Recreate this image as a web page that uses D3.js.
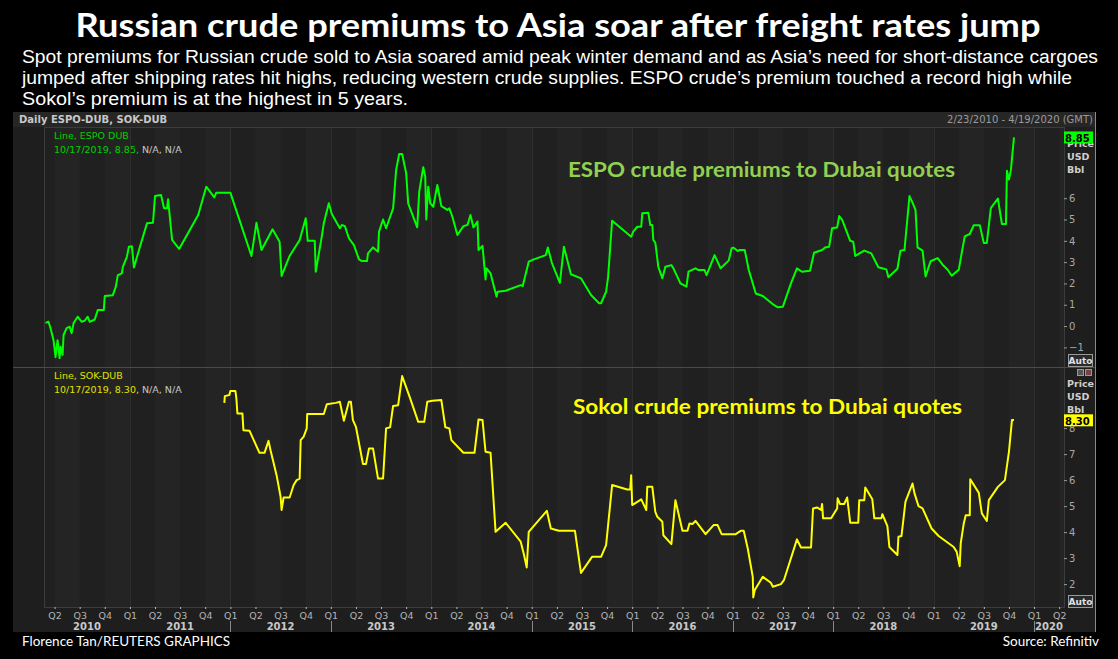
<!DOCTYPE html>
<html><head><meta charset="utf-8">
<script src="https://cdn.jsdelivr.net/npm/d3@7"></script>
<style>html,body{margin:0;padding:0;background:#000;}svg{display:block;}</style>
</head><body>
<script>
// ---- DATA (decimal year, USD/bbl premium vs Dubai) ----
const espoDates = [2010.16,2010.19,2010.21,2010.24,2010.26,2010.28,2010.30,2010.31,2010.33,2010.34,2010.37,2010.40,2010.42,2010.44,2010.48,2010.52,2010.55,2010.58,2010.60,2010.65,2010.68,2010.74,2010.75,2010.83,2010.86,2010.88,2010.92,2010.93,2010.97,2010.99,2011.02,2011.04,2011.10,2011.17,2011.23,2011.25,2011.31,2011.34,2011.37,2011.38,2011.42,2011.49,2011.68,2011.76,2011.84,2011.86,2012.00,2012.21,2012.26,2012.31,2012.42,2012.49,2012.51,2012.59,2012.69,2012.75,2012.77,2012.84,2012.85,2012.91,2012.93,2012.98,2013.01,2013.09,2013.11,2013.14,2013.18,2013.23,2013.28,2013.31,2013.36,2013.37,2013.42,2013.47,2013.48,2013.52,2013.55,2013.62,2013.65,2013.68,2013.71,2013.75,2013.77,2013.86,2013.88,2013.92,2013.94,2013.95,2013.97,2013.99,2014.02,2014.06,2014.10,2014.16,2014.18,2014.21,2014.26,2014.32,2014.36,2014.39,2014.42,2014.46,2014.47,2014.51,2014.54,2014.55,2014.59,2014.65,2014.66,2014.74,2014.89,2014.91,2014.97,2015.02,2015.14,2015.16,2015.20,2015.28,2015.32,2015.39,2015.49,2015.59,2015.67,2015.69,2015.74,2015.76,2015.80,2015.99,2016.01,2016.05,2016.09,2016.10,2016.16,2016.18,2016.20,2016.21,2016.23,2016.26,2016.30,2016.33,2016.39,2016.41,2016.48,2016.54,2016.56,2016.63,2016.66,2016.72,2016.74,2016.76,2016.82,2016.88,2016.96,2016.99,2017.01,2017.05,2017.07,2017.12,2017.16,2017.23,2017.30,2017.41,2017.45,2017.50,2017.58,2017.64,2017.69,2017.77,2017.81,2017.89,2017.92,2017.96,2017.99,2018.04,2018.06,2018.09,2018.17,2018.20,2018.22,2018.31,2018.38,2018.45,2018.53,2018.55,2018.64,2018.67,2018.71,2018.76,2018.79,2018.82,2018.84,2018.89,2018.92,2018.97,2019.04,2019.09,2019.14,2019.18,2019.25,2019.31,2019.36,2019.40,2019.46,2019.50,2019.53,2019.57,2019.64,2019.68,2019.72,2019.73,2019.75,2019.77,2019.80];
const espoValues = [0.15,0.2,-0.1,-0.66,-1.46,-0.66,-1.5,-0.97,-1.36,-0.42,-0.1,-0.03,-0.33,0.14,0.44,0.2,0.25,0.44,0.2,0.31,0.75,0.75,1.41,1.45,1.85,2.39,2.47,2.78,3.25,3.72,3.75,2.75,3.72,4.82,4.85,6.1,6.15,5.53,5.53,5.95,4.04,3.62,5.21,6.54,6.04,6.26,6.26,3.29,4.85,3.57,4.54,3.96,2.35,3.29,4.04,5.06,4.0,4.0,2.55,4.2,4.82,5.76,5.26,4.59,4.74,4.69,4.12,3.8,3.13,3.05,3.05,3.41,3.69,3.49,4.43,5.0,4.59,5.52,7.32,8.07,8.07,7.17,5.76,4.63,6.31,7.45,7.01,5.0,6.54,5.76,5.6,6.62,5.63,5.45,5.52,5.13,4.27,4.69,4.74,5.21,4.63,4.9,3.57,3.76,2.19,2.71,2.47,1.38,1.61,1.66,1.92,1.88,3.02,3.13,3.33,3.69,2.97,2.03,3.72,2.43,2.24,1.46,1.07,1.07,1.61,2.31,4.94,4.19,4.43,4.66,4.66,5.29,5.32,4.74,4.74,4.04,3.91,2.78,2.24,2.78,2.86,2.71,2.0,1.85,2.55,2.71,2.63,2.63,2.39,2.63,3.33,2.71,3.07,3.65,3.68,3.52,3.57,3.57,2.63,1.53,1.41,0.99,0.88,0.91,2.0,2.71,2.55,2.6,3.44,3.57,3.69,3.72,4.59,4.63,5.16,4.98,4.0,3.96,3.29,3.54,3.41,2.76,2.66,2.29,2.69,3.54,3.57,6.1,5.79,5.45,3.69,3.54,2.33,3.04,3.19,2.88,2.64,2.36,2.64,4.21,4.32,4.73,4.73,3.9,3.9,5.54,5.98,4.79,4.79,7.29,6.87,7.34,8.85];

const sokolDates = [2011.94,2011.945,2011.99,2012.00,2012.05,2012.06,2012.07,2012.12,2012.13,2012.19,2012.29,2012.34,2012.38,2012.40,2012.46,2012.50,2012.51,2012.53,2012.59,2012.63,2012.66,2012.69,2012.70,2012.73,2012.76,2012.765,2012.93,2012.96,2013.05,2013.09,2013.13,2013.18,2013.20,2013.22,2013.25,2013.32,2013.35,2013.38,2013.42,2013.47,2013.52,2013.55,2013.59,2013.62,2013.67,2013.71,2013.79,2013.87,2013.93,2013.96,2014.01,2014.10,2014.14,2014.18,2014.20,2014.32,2014.43,2014.47,2014.51,2014.54,2014.59,2014.64,2014.74,2014.89,2014.92,2014.95,2014.97,2015.15,2015.19,2015.27,2015.43,2015.49,2015.60,2015.69,2015.74,2015.80,2015.95,2015.98,2015.99,2016.00,2016.09,2016.14,2016.15,2016.20,2016.23,2016.25,2016.30,2016.31,2016.39,2016.43,2016.50,2016.55,2016.57,2016.60,2016.63,2016.73,2016.81,2016.85,2016.89,2017.03,2017.08,2017.11,2017.15,2017.20,2017.205,2017.22,2017.30,2017.38,2017.40,2017.48,2017.51,2017.64,2017.68,2017.78,2017.80,2017.84,2017.88,2017.89,2017.90,2017.98,2018.04,2018.045,2018.07,2018.11,2018.14,2018.17,2018.25,2018.26,2018.31,2018.32,2018.39,2018.41,2018.48,2018.49,2018.54,2018.56,2018.64,2018.65,2018.68,2018.72,2018.79,2018.81,2018.85,2018.89,2018.98,2019.05,2019.20,2019.23,2019.26,2019.27,2019.30,2019.32,2019.36,2019.365,2019.45,2019.48,2019.53,2019.55,2019.64,2019.71,2019.75,2019.78,2019.80];
const sokolValues = [8.97,9.23,9.27,9.43,9.43,9.14,8.56,8.56,7.92,7.9,7.05,7.05,7.51,7.15,6.19,5.36,4.85,5.33,5.33,5.81,6.0,6.06,7.54,7.67,7.99,8.54,8.54,8.92,8.97,9.01,8.28,9.01,9.01,8.31,8.05,6.62,6.62,7.22,7.22,6.06,6.06,7.99,8.03,8.85,8.88,10.0,9.14,8.24,8.24,9.01,9.05,9.08,8.03,7.99,7.54,7.05,7.05,8.33,8.31,7.09,7.05,4.01,4.36,3.63,3.18,2.64,4.01,4.82,4.14,4.05,4.05,2.43,3.05,3.05,3.5,5.81,5.64,5.64,6.19,5.04,5.26,4.85,5.74,5.74,4.78,4.59,4.4,3.88,3.54,5.23,4.05,4.05,4.33,4.31,4.43,3.92,4.27,4.27,3.92,3.92,4.05,4.05,3.37,2.28,1.49,1.77,2.28,2.05,1.9,2.0,2.15,3.72,3.41,3.41,4.91,4.95,4.85,5.08,4.53,4.53,4.91,5.3,5.08,5.08,5.33,4.36,4.36,5.23,5.23,5.72,5.26,4.53,4.53,4.69,4.23,3.43,3.12,3.82,3.85,5.17,5.87,5.49,5.0,4.91,4.14,3.85,3.43,3.24,2.69,3.57,4.33,4.65,4.65,6.03,5.51,4.72,4.43,5.23,5.74,6.0,7.09,8.31,8.31];

const espoTicks = [-1,0,1,2,3,4,5,6];
const sokolTicks = [2,3,4,5,6,7,8];
const quarterLabels = ["Q1","Q2","Q3","Q4"];
const yearLabels = [2010,2011,2012,2013,2014,2015,2016,2017,2018,2019,2020];
const yearSeparators = [2012,2013,2015,2016,2017,2018,2020];
const espoLast = "8.85", sokolLast = "8.30";

const W = 1118, H = 659;
const svg = d3.select("body").append("svg").attr("width", W).attr("height", H);
svg.append("rect").attr("width", W).attr("height", H).attr("fill", "#000");

// titles
svg.append("text").attr("x", 558).attr("y", 37).attr("text-anchor","middle")
  .attr("font-family","Lato, 'Open Sans', sans-serif").attr("font-weight","bold").attr("font-size", 33)
  .attr("fill","#fff").attr("textLength", 965).attr("lengthAdjust","spacingAndGlyphs")
  .text("Russian crude premiums to Asia soar after freight rates jump");
const sub = [
 ["Spot premiums for Russian crude sold to Asia soared amid peak winter demand and as Asia’s need for short-distance cargoes", 1076],
 ["jumped after shipping rates hit highs, reducing western crude supplies. ESPO crude’s premium touched a record high while", 1050],
 ["Sokol’s premium is at the highest in 5 years.", 386]];
sub.forEach((s,i)=>{
  svg.append("text").attr("x",22).attr("y",63+i*20.8)
   .attr("font-family","'Liberation Sans', Arial, sans-serif").attr("font-size",18)
   .attr("fill","#fff").attr("textLength",s[1]).attr("lengthAdjust","spacingAndGlyphs").text(s[0]);
});

// panel
const P = {l:13, r:1095, t:112, b:632};
const plot = {l:44, r:1064, t:127, mid:367, b:607};
svg.append("rect").attr("x",P.l).attr("y",P.t).attr("width",P.r-P.l).attr("height",P.b-P.t).attr("fill","#1e1e1e");
svg.append("rect").attr("x",P.l).attr("y",P.t).attr("width",P.r-P.l).attr("height",plot.t-P.t).attr("fill","#262626");
svg.append("line").attr("x1",P.r+0.5).attr("x2",P.r+0.5).attr("y1",P.t).attr("y2",P.b).attr("stroke","#8a8a8a");

const x = d3.scaleLinear().domain([2010.145, 2020.298]).range([plot.l, plot.r]);
const yE = d3.scaleLinear().domain([-1.92, 9.34]).range([plot.mid, plot.t]);
const yS = d3.scaleLinear().domain([1.12, 10.35]).range([plot.b, plot.mid]);

// plot bg + quarter bands
svg.append("rect").attr("x",plot.l).attr("y",plot.t).attr("width",plot.r-plot.l).attr("height",plot.b-plot.t).attr("fill","#202020");
const quarters = d3.range(2010, 2020.5, 0.25);
const band = svg.append("g");
quarters.forEach((q,i)=>{
  if (i%2===0) return;
  const x0 = Math.max(plot.l, x(q)), x1 = Math.min(plot.r, x(q+0.25));
  if (x1>x0) band.append("rect").attr("x",x0).attr("y",plot.t).attr("width",x1-x0).attr("height",plot.b-plot.t).attr("fill","#242424");
});
// year gridlines
yearLabels.forEach(yr=>{
  if (x(yr)>plot.l && x(yr)<plot.r)
    svg.append("line").attr("x1",Math.round(x(yr))+0.5).attr("x2",Math.round(x(yr))+0.5).attr("y1",plot.t).attr("y2",plot.b).attr("stroke","#2f2f2f");
});
// borders
svg.append("rect").attr("x",plot.l+0.5).attr("y",plot.t+0.5).attr("width",plot.r-plot.l).attr("height",plot.b-plot.t).attr("fill","none").attr("stroke","#3c3c3c");
svg.append("line").attr("x1",P.l).attr("x2",P.r).attr("y1",plot.mid+0.5).attr("y2",plot.mid+0.5).attr("stroke","#4a4a4a");

// header strip text
const small = "'DejaVu Sans', Verdana, sans-serif";
svg.append("text").attr("x",19).attr("y",123).attr("font-family",small).attr("font-size",10).attr("font-weight","bold").attr("fill","#c8c8c8").text("Daily ESPO-DUB, SOK-DUB");
svg.append("text").attr("x",1093).attr("y",123).attr("text-anchor","end").attr("font-family",small).attr("font-size",10).attr("fill","#9a9a9a").text("2/23/2010 - 4/19/2020 (GMT)");

// lines
const lineE = d3.line().x((d,i)=>x(espoDates[i])).y(d=>yE(d));
const lineS = d3.line().x((d,i)=>x(sokolDates[i])).y(d=>yS(d));
svg.append("path").datum(espoValues).attr("d",lineE).attr("fill","none").attr("stroke","#00ff00").attr("stroke-width",2).attr("stroke-linejoin","round");
svg.append("path").datum(sokolValues).attr("d",lineS).attr("fill","none").attr("stroke","#ffff00").attr("stroke-width",2).attr("stroke-linejoin","round");

// legends
function legend(y0, name, last, col){
  svg.append("text").attr("x",54).attr("y",y0).attr("font-family",small).attr("font-size",9.5).attr("fill",col).text(name);
  const t = svg.append("text").attr("x",54).attr("y",y0+14).attr("font-family",small).attr("font-size",9.5);
  t.append("tspan").attr("fill",col).text("10/17/2019, "+last+", ");
  t.append("tspan").attr("fill","#c8c8c8").text("N/A, N/A");
}
legend(139, "Line, ESPO DUB", espoLast, "#00d000");
legend(379, "Line, SOK-DUB", sokolLast, "#e0e000");

// annotations
svg.append("text").attr("x",568).attr("y",177).attr("font-family","Lato, 'Open Sans', sans-serif").attr("font-weight","bold").attr("font-size",21)
 .attr("fill","#92d050").attr("textLength",387).attr("lengthAdjust","spacingAndGlyphs").text("ESPO crude premiums to Dubai quotes");
svg.append("text").attr("x",573).attr("y",414).attr("font-family","Lato, 'Open Sans', sans-serif").attr("font-weight","bold").attr("font-size",21)
 .attr("fill","#ffff00").attr("textLength",389).attr("lengthAdjust","spacingAndGlyphs").text("Sokol crude premiums to Dubai quotes");

// right axes
function rightAxis(scale, ticks, topY, badgeVal, badgeCol, autoY){
  const g = svg.append("g").attr("transform",`translate(${plot.r},0)`);
  const ax = d3.axisRight(scale).tickValues(ticks).tickSize(3).tickPadding(2).tickFormat(d3.format("d"));
  g.call(ax);
  g.select(".domain").remove();
  g.selectAll(".tick line").attr("stroke","#9a9a9a");
  g.selectAll(".tick text").attr("fill","#a8a8a8").attr("font-family",small).attr("font-size",10);
  ["Price","USD","Bbl"].forEach((s,i)=>{
    svg.append("text").attr("x",1067).attr("y",topY+i*13).attr("font-family",small).attr("font-weight","bold").attr("font-size",9.5).attr("fill","#cfcfcf").text(s);
  });
  const by = scale(+badgeVal);
  svg.append("rect").attr("x",plot.r).attr("y",by-6).attr("width",29).attr("height",12).attr("fill",badgeCol);
  svg.append("text").attr("x",plot.r+1).attr("y",by+4.5).attr("font-family",small).attr("font-weight","bold").attr("font-size",10).attr("fill","#000").text(badgeVal);
  svg.append("rect").attr("x",1068.5).attr("y",autoY+0.5).attr("width",24).attr("height",12).attr("fill","#2a2a2a").attr("stroke","#9a9a9a");
  svg.append("text").attr("x",1080.5).attr("y",autoY+10).attr("text-anchor","middle").attr("font-family",small).attr("font-weight","bold").attr("font-size",9).attr("fill","#e0e0e0").text("Auto");
}
rightAxis(yE, espoTicks, 147, espoLast, "#00ff00", 354);
rightAxis(yS, sokolTicks, 387, sokolLast, "#ffff00", 595);
// small window icons
svg.append("rect").attr("x",1077.5).attr("y",369.5).attr("width",6).attr("height",6).attr("fill","#555").attr("stroke","#999");
svg.append("rect").attr("x",1085.5).attr("y",369.5).attr("width",6).attr("height",6).attr("fill","#774444").attr("stroke","#999");

// x axis quarters
const qTicks = d3.range(2010.25, 2020.3, 0.25);
const xg = svg.append("g").attr("transform",`translate(0,${plot.b})`);
xg.call(d3.axisBottom(x).tickValues(qTicks).tickSize(2).tickPadding(3)
   .tickFormat(d=>quarterLabels[Math.round((d-Math.floor(d+1e-6))*4)%4]));
xg.select(".domain").remove();
xg.selectAll(".tick line").attr("stroke","#bbbbbb");
xg.selectAll(".tick text").attr("fill","#b4b4b4").attr("font-family",small).attr("font-size",9.5);
// years
yearLabels.forEach(yr=>{
  const a = Math.max(x.domain()[0], yr), b = Math.min(x.domain()[1], yr+1);
  svg.append("text").attr("x",x((a+b)/2)).attr("y",630).attr("text-anchor","middle").attr("font-family",small)
    .attr("font-weight","bold").attr("font-size",10).attr("fill","#c8c8c8").text(yr);
});
yearSeparators.forEach(yr=>{
  svg.append("line").attr("x1",Math.round(x(yr))+0.5).attr("x2",Math.round(x(yr))+0.5).attr("y1",621).attr("y2",632).attr("stroke","#888");
});

// footer
svg.append("text").attr("x",22).attr("y",646).attr("font-family","Lato, 'Open Sans', sans-serif").attr("font-size",13.5).attr("fill","#fff").text("Florence Tan/REUTERS GRAPHICS");
svg.append("text").attr("x",1099).attr("y",646).attr("text-anchor","end").attr("font-family","Lato, 'Open Sans', sans-serif").attr("font-size",13.5).attr("fill","#fff").text("Source: Refinitiv");
</script>
</body></html>
